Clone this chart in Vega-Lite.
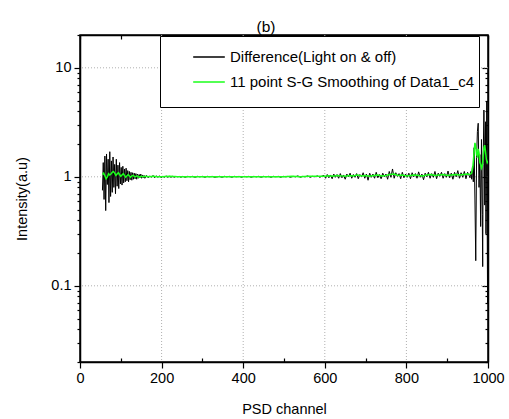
{
  "$schema": "https://vega.github.io/schema/vega-lite/v6.json",
  "width": 408,
  "height": 327,
  "autosize": "none",
  "padding": {"left": 80, "top": 35, "right": 21, "bottom": 57},
  "background": "white",
  "config": {
    "font": "Liberation Sans",
    "view": {"stroke": "black", "strokeWidth": 1.5},
    "axis": {"domainColor": "black", "domainWidth": 1.5, "tickColor": "black", "tickWidth": 1.2, "labelColor": "black", "titleColor": "black", "labelFont": "Liberation Sans", "titleFont": "Liberation Sans", "labelFontSize": 14.5, "titleFontSize": 14.5, "titleFontWeight": "normal", "grid": false}
  },
  "title": {"text": "(b)", "font": "Liberation Sans", "fontSize": 15.5, "fontWeight": "normal", "color": "black", "anchor": "middle", "dx": -18, "dy": 3, "offset": 2},
  "datasets": {
    "gx": [{"g":200},{"g":400},{"g":600},{"g":800}],
    "gy": [{"g":0.1},{"g":1},{"g":10}],
    "diff": [
      {"c":55,"v":0.75},{"c":57,"v":1.35},{"c":59,"v":0.62},{"c":61,"v":1.55},{"c":63,"v":0.49},{"c":65,"v":1.62},{"c":67,"v":0.85},{"c":69,"v":1.45},{"c":71,"v":0.58},{"c":73,"v":1.7},{"c":75,"v":0.66},{"c":77,"v":1.4},{"c":79,"v":0.72},{"c":81,"v":1.52},{"c":83,"v":0.8},{"c":85,"v":1.3},{"c":87,"v":0.7},{"c":89,"v":1.45},{"c":91,"v":0.82},{"c":93,"v":1.28},{"c":95,"v":0.78},{"c":97,"v":1.35},{"c":99,"v":0.86},{"c":101,"v":1.22},{"c":103,"v":0.84},{"c":105,"v":1.25},{"c":107,"v":0.88},{"c":109,"v":1.18},{"c":111,"v":0.9},{"c":113,"v":1.2},{"c":115,"v":0.92},{"c":117,"v":1.14},{"c":119,"v":0.9},{"c":121,"v":1.12},{"c":123,"v":0.94},{"c":125,"v":1.1},{"c":127,"v":0.93},{"c":129,"v":1.09},{"c":131,"v":0.95},{"c":133,"v":1.08},{"c":135,"v":0.96},{"c":137,"v":1.07},{"c":139,"v":0.95},{"c":141,"v":1.06},{"c":143,"v":0.97},{"c":145,"v":1.05},{"c":147,"v":0.98},{"c":149,"v":1.06},{"c":151,"v":0.97},{"c":153,"v":1.04},{"c":155,"v":0.98},{"c":157,"v":1.03},{"c":159,"v":0.97},
      {"c":163,"v":1.03},{"c":167,"v":0.98},{"c":171,"v":1.02},{"c":175,"v":0.99},{"c":179,"v":1.03},{"c":183,"v":0.98},{"c":187,"v":1.02},{"c":191,"v":0.99},{"c":195,"v":1.02},{"c":199,"v":0.98},{"c":203,"v":1.01},{"c":207,"v":0.99},{"c":211,"v":1.02},{"c":215,"v":0.99},{"c":219,"v":1.01},{"c":223,"v":0.99},{"c":227,"v":1.01},{"c":231,"v":0.99},{"c":235,"v":1.01},{"c":239,"v":1.0},{"c":243,"v":1.01},{"c":247,"v":0.99},
      {"c":252,"v":1.01},{"c":258,"v":0.99},{"c":264,"v":1.01},{"c":270,"v":1.0},{"c":276,"v":1.01},{"c":282,"v":0.99},{"c":288,"v":1.01},{"c":294,"v":1.0},{"c":300,"v":1.01},{"c":306,"v":0.99},{"c":312,"v":1.01},{"c":318,"v":1.0},{"c":324,"v":1.01},{"c":330,"v":0.99},{"c":336,"v":1.0},{"c":342,"v":1.01},{"c":348,"v":0.99},{"c":354,"v":1.01},{"c":360,"v":1.0},{"c":366,"v":1.01},{"c":372,"v":0.99},{"c":378,"v":1.01},{"c":384,"v":1.0},{"c":390,"v":1.01},{"c":396,"v":0.99},{"c":402,"v":1.01},{"c":408,"v":1.0},{"c":414,"v":1.01},{"c":420,"v":0.99},{"c":426,"v":1.01},{"c":432,"v":1.0},{"c":438,"v":1.01},{"c":444,"v":0.99},{"c":450,"v":1.01},{"c":456,"v":1.0},{"c":462,"v":1.01},{"c":468,"v":0.99},{"c":474,"v":1.01},{"c":480,"v":1.0},{"c":486,"v":1.01},{"c":492,"v":0.99},{"c":498,"v":1.01},{"c":504,"v":1.0},{"c":510,"v":1.01},{"c":516,"v":0.99},{"c":522,"v":1.01},{"c":528,"v":1.0},{"c":534,"v":1.02},{"c":540,"v":0.99},{"c":546,"v":1.01},{"c":552,"v":1.0},{"c":558,"v":1.02},{"c":564,"v":0.99},{"c":570,"v":1.01},{"c":576,"v":1.0},{"c":582,"v":1.02},{"c":588,"v":0.99},{"c":594,"v":1.02},
      {"c":598,"v":1.03},{"c":602,"v":0.97},{"c":606,"v":1.05},{"c":610,"v":0.98},{"c":614,"v":1.04},{"c":618,"v":0.96},{"c":622,"v":1.06},{"c":626,"v":0.99},{"c":630,"v":1.05},{"c":634,"v":0.97},{"c":638,"v":1.07},{"c":642,"v":0.98},{"c":646,"v":1.04},{"c":650,"v":0.95},{"c":654,"v":1.06},{"c":658,"v":1.0},{"c":662,"v":1.08},{"c":666,"v":0.97},{"c":670,"v":1.05},{"c":674,"v":0.99},{"c":678,"v":1.07},{"c":682,"v":0.96},{"c":686,"v":1.05},{"c":690,"v":1.0},{"c":694,"v":1.09},{"c":698,"v":0.97},{"c":702,"v":1.06},{"c":706,"v":0.93},{"c":710,"v":1.08},{"c":714,"v":0.99},{"c":718,"v":1.06},{"c":722,"v":0.97},{"c":726,"v":1.1},{"c":730,"v":0.98},{"c":734,"v":1.05},{"c":738,"v":0.96},{"c":742,"v":1.08},{"c":746,"v":1.0},{"c":750,"v":1.06},{"c":754,"v":0.95},{"c":758,"v":1.12},{"c":762,"v":0.99},{"c":766,"v":1.18},{"c":770,"v":0.97},{"c":774,"v":1.09},{"c":778,"v":1.01},{"c":782,"v":1.07},{"c":786,"v":0.96},{"c":790,"v":1.1},{"c":794,"v":0.98},{"c":798,"v":1.06},{"c":802,"v":0.99},{"c":806,"v":1.08},{"c":810,"v":0.96},{"c":814,"v":1.09},{"c":818,"v":1.0},{"c":822,"v":1.07},{"c":826,"v":0.97},{"c":830,"v":1.11},{"c":834,"v":0.99},{"c":838,"v":1.06},{"c":842,"v":0.94},{"c":846,"v":1.08},{"c":850,"v":1.0},{"c":854,"v":1.1},{"c":858,"v":0.97},{"c":862,"v":1.07},{"c":866,"v":0.99},{"c":870,"v":1.12},{"c":874,"v":0.96},{"c":878,"v":1.08},{"c":882,"v":1.01},{"c":886,"v":1.1},{"c":890,"v":0.97},{"c":894,"v":1.07},{"c":898,"v":0.99},{"c":902,"v":1.13},{"c":906,"v":0.98},{"c":910,"v":1.08},{"c":914,"v":0.95},{"c":918,"v":1.1},{"c":922,"v":1.0},{"c":926,"v":1.14},{"c":930,"v":0.97},{"c":934,"v":1.09},{"c":938,"v":0.99},{"c":942,"v":1.12},{"c":946,"v":0.96},{"c":950,"v":1.1},{"c":954,"v":1.02},
      {"c":956,"v":0.98},{"c":958,"v":1.12},{"c":960,"v":0.95},{"c":962,"v":1.25},{"c":964,"v":0.9},{"c":966,"v":1.85},{"c":968,"v":0.6},{"c":970,"v":0.17},{"c":972,"v":1.5},{"c":974,"v":2.6},{"c":976,"v":3.1},{"c":978,"v":0.8},{"c":980,"v":1.6},{"c":982,"v":0.35},{"c":984,"v":2.2},{"c":986,"v":0.45},{"c":987,"v":0.15},{"c":988,"v":1.3},{"c":990,"v":4.1},{"c":991,"v":2.0},{"c":992,"v":0.55},{"c":994,"v":3.2},{"c":995,"v":0.3},{"c":996,"v":1.0},{"c":997,"v":4.9},{"c":998,"v":0.4},{"c":999,"v":0.07},{"c":1000,"v":1.3}
    ],
    "smooth": [
      {"c":55,"v":1.05},{"c":58,"v":1.08},{"c":61,"v":1.02},{"c":64,"v":0.96},{"c":67,"v":1.0},{"c":70,"v":1.07},{"c":73,"v":1.04},{"c":76,"v":1.06},{"c":79,"v":1.1},{"c":82,"v":1.12},{"c":85,"v":1.08},{"c":88,"v":1.03},{"c":91,"v":1.06},{"c":94,"v":1.09},{"c":97,"v":1.05},{"c":100,"v":1.01},{"c":103,"v":1.04},{"c":106,"v":1.07},{"c":109,"v":1.03},{"c":112,"v":0.99},{"c":115,"v":1.02},{"c":118,"v":1.05},{"c":121,"v":1.02},{"c":124,"v":0.99},{"c":127,"v":1.02},{"c":130,"v":1.03},{"c":135,"v":1.0},{"c":140,"v":1.02},{"c":145,"v":0.99},{"c":150,"v":1.01},{"c":155,"v":1.0},{"c":160,"v":1.01},{"c":170,"v":1.0},{"c":180,"v":1.01},{"c":190,"v":1.0},{"c":200,"v":1.0},{"c":220,"v":1.01},{"c":240,"v":1.0},{"c":260,"v":1.0},{"c":280,"v":1.0},{"c":300,"v":1.0},{"c":320,"v":1.0},{"c":340,"v":1.0},{"c":360,"v":1.0},{"c":380,"v":1.0},{"c":400,"v":1.0},{"c":420,"v":1.0},{"c":440,"v":1.0},{"c":460,"v":1.0},{"c":480,"v":1.0},{"c":500,"v":1.0},{"c":520,"v":1.01},{"c":540,"v":1.0},{"c":560,"v":1.01},{"c":580,"v":1.01},
      {"c":600,"v":1.01},{"c":610,"v":1.02},{"c":620,"v":1.01},{"c":630,"v":1.03},{"c":640,"v":1.02},{"c":650,"v":1.01},{"c":660,"v":1.03},{"c":670,"v":1.02},{"c":680,"v":1.04},{"c":690,"v":1.02},{"c":700,"v":1.03},{"c":710,"v":1.01},{"c":720,"v":1.03},{"c":730,"v":1.04},{"c":740,"v":1.02},{"c":750,"v":1.03},{"c":760,"v":1.05},{"c":770,"v":1.06},{"c":780,"v":1.03},{"c":790,"v":1.04},{"c":800,"v":1.02},{"c":810,"v":1.03},{"c":820,"v":1.04},{"c":830,"v":1.03},{"c":840,"v":1.02},{"c":850,"v":1.04},{"c":860,"v":1.05},{"c":870,"v":1.03},{"c":880,"v":1.04},{"c":890,"v":1.05},{"c":900,"v":1.03},{"c":910,"v":1.04},{"c":920,"v":1.05},{"c":930,"v":1.04},{"c":940,"v":1.05},{"c":950,"v":1.06},{"c":955,"v":1.05},{"c":960,"v":1.08},
      {"c":963,"v":1.25},{"c":966,"v":1.7},{"c":968,"v":2.05},{"c":970,"v":1.9},{"c":972,"v":1.6},{"c":974,"v":1.55},{"c":976,"v":1.8},{"c":978,"v":1.65},{"c":980,"v":1.35},{"c":982,"v":1.3},{"c":984,"v":1.2},{"c":986,"v":1.25},{"c":988,"v":1.5},{"c":990,"v":1.85},{"c":992,"v":1.95},{"c":994,"v":1.7},{"c":996,"v":1.45},{"c":998,"v":1.35},{"c":1000,"v":1.4}
    ]
  },
  "layer": [
    {
      "data": {"name": "gx"},
      "mark": {"type": "rule", "color": "#b0b0b0", "strokeDash": [1, 2], "strokeWidth": 1},
      "encoding": {"x": {"field": "g", "type": "quantitative", "axis": null}}
    },
    {
      "data": {"name": "gy"},
      "mark": {"type": "rule", "color": "#b0b0b0", "strokeDash": [1, 2], "strokeWidth": 1},
      "encoding": {"y": {"field": "g", "type": "quantitative", "axis": null}}
    },
    {
      "data": {"name": "diff"},
      "mark": {"type": "line", "strokeWidth": 1, "clip": true},
      "encoding": {
        "x": {"field": "c", "type": "quantitative", "scale": {"domain": [0, 1000], "nice": false},
          "axis": {"orient": "bottom", "title": "PSD channel", "titleBaseline": "alphabetic", "titleY": 51,
            "values": [0,100,200,300,400,500,600,700,800,900,1000],
            "labelExpr": "datum.value % 200 == 0 ? datum.label : ''", "format": "d", "labelPadding": 3, "labelFlush": false,
            "tickSize": {"condition": {"test": "datum.value % 200 == 0", "value": 6}, "value": -4}}},
        "y": {"field": "v", "type": "quantitative", "scale": {"type": "log", "domain": [0.02, 20], "nice": false},
          "axis": {"orient": "left", "title": "Intensity(a.u)", "titleX": -51,
            "values": [0.02,0.03,0.04,0.05,0.06,0.07,0.08,0.09,0.1,0.2,0.3,0.4,0.5,0.6,0.7,0.8,0.9,1,2,3,4,5,6,7,8,9,10,20],
            "labelExpr": "datum.value == 10 ? '10' : datum.value == 1 ? '1' : datum.value == 0.1 ? '0.1' : ''", "labelPadding": 3, "labelFlush": false,
            "tickSize": {"condition": {"test": "datum.value == 10 || datum.value == 1 || datum.value == 0.1", "value": 6}, "value": 3}}},
        "color": {"datum": "Difference(Light on & off)", "type": "nominal",
          "scale": {"domain": ["Difference(Light on & off)", "11 point S-G Smoothing of Data1_c4"], "range": ["black", "#1aff1a"]},
          "legend": {"title": " ", "titleOrient": "bottom", "titleFontSize": 12, "titlePadding": 2, "orient": "none", "legendX": 80, "legendY": 1, "direction": "vertical",
            "fillColor": "white", "strokeColor": "black", "padding": 4, "cornerRadius": 0,
            "symbolType": "stroke", "symbolSize": 1000, "symbolStrokeWidth": 1.5, "symbolOffset": 28,
            "labelFont": "Liberation Sans", "labelFontSize": 15, "labelColor": "black", "labelLimit": 400, "rowPadding": -6}}
      }
    },
    {
      "data": {"name": "smooth"},
      "mark": {"type": "line", "strokeWidth": 1.5, "clip": true},
      "encoding": {
        "x": {"field": "c", "type": "quantitative",
          "axis": {"orient": "top", "title": null, "labels": false,
            "values": [0,100,200,300,400,500,600,700,800,900,1000],
            "tickSize": -4}},
        "y": {"field": "v", "type": "quantitative",
          "axis": {"orient": "right", "title": null, "labels": false,
            "values": [0.02,0.03,0.04,0.05,0.06,0.07,0.08,0.09,0.1,0.2,0.3,0.4,0.5,0.6,0.7,0.8,0.9,1,2,3,4,5,6,7,8,9,10,20],
            "tickSize": {"condition": {"test": "datum.value == 10 || datum.value == 1 || datum.value == 0.1", "value": -6}, "value": -3}}},
        "color": {"datum": "11 point S-G Smoothing of Data1_c4", "type": "nominal"}
      }
    }
  ],
  "resolve": {"axis": {"x": "independent", "y": "independent"}}
}
